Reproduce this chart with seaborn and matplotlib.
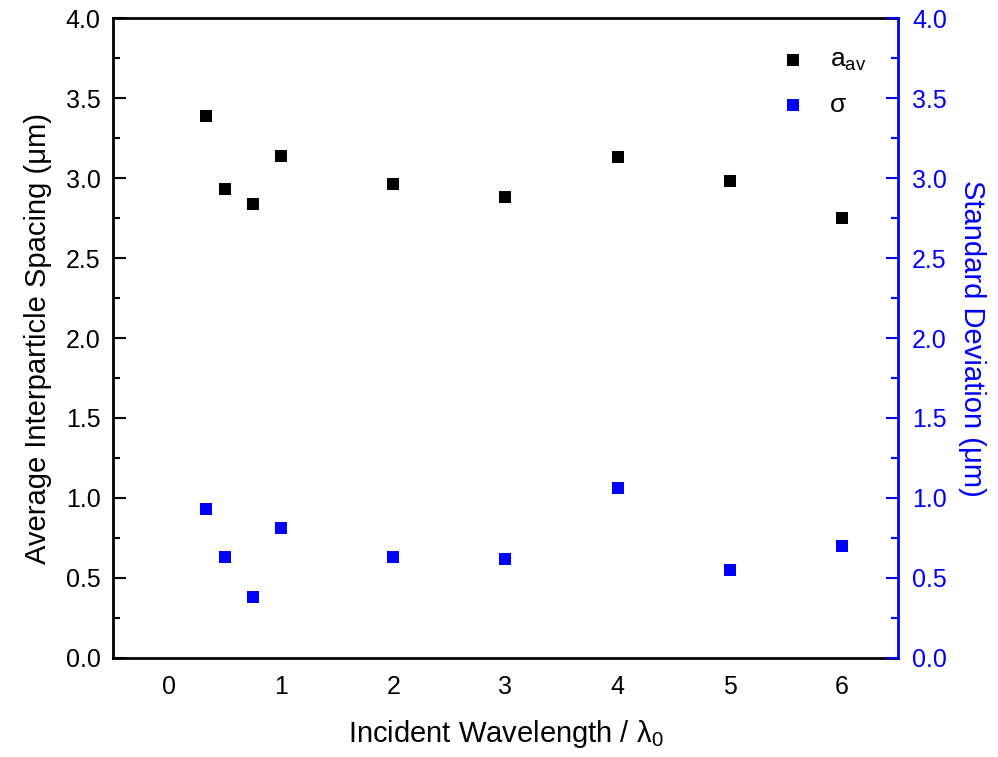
import matplotlib
matplotlib.use("Agg")
import matplotlib.pyplot as plt
from matplotlib.ticker import MultipleLocator
import seaborn as sns
import pandas as pd

wavelength = [1/3, 0.5, 0.75, 1, 2, 3, 4, 5, 6]
spacing_avg = [3.39, 2.93, 2.84, 3.14, 2.96, 2.88, 3.13, 2.98, 2.75]
spacing_std = [0.93, 0.63, 0.38, 0.81, 0.63, 0.62, 1.06, 0.55, 0.70]
ytick_values = [0, 0.5, 1, 1.5, 2, 2.5, 3, 3.5, 4]
ytick_labels = ["0.0", "0.5", "1.0", "1.5", "2.0", "2.5", "3.0", "3.5", "4.0"]

sns.set_style("white")
plt.rcParams["font.family"] = ["Liberation Sans", "DejaVu Sans"]
plt.rcParams["mathtext.fontset"] = "custom"
plt.rcParams["mathtext.rm"] = "Liberation Sans"
plt.rcParams["mathtext.it"] = "Liberation Sans"
plt.rcParams["text.color"] = "black"
plt.rcParams["axes.labelcolor"] = "black"

df = pd.DataFrame({"x": wavelength, "aav": spacing_avg, "sigma": spacing_std})

fig = plt.figure(figsize=(9.98, 7.57), dpi=100)
ax = fig.add_axes([0.1132, 0.1308, 0.7866, 0.8454])
ax2 = ax.twinx()

sns.scatterplot(data=df, x="x", y="aav", ax=ax, marker="s", color="black",
                s=75, linewidth=0, label=r"$\mathregular{a_{av}}$", legend=False)
sns.scatterplot(data=df, x="x", y="sigma", ax=ax2, marker="s", color="blue",
                s=75, linewidth=0, label="σ", legend=False)

for a in (ax, ax2):
    a.set_xlim(-0.5, 6.5)
    a.set_ylim(0, 4.0)
    a.yaxis.set_minor_locator(MultipleLocator(0.25))
    a.set_yticks(ytick_values)
    a.set_yticklabels(ytick_labels)

ax.xaxis.set_major_locator(MultipleLocator(1))
ax.xaxis.set_minor_locator(MultipleLocator(0.5))

ax.tick_params(axis="both", which="major", direction="in", length=9, width=1.5,
               labelsize=18, colors="black")
ax.tick_params(axis="y", which="major", pad=9)
ax.tick_params(axis="x", which="major", pad=12)
ax.tick_params(axis="both", which="minor", direction="in", length=5, width=1.5,
               colors="black")
ax.tick_params(axis="y", right=False)
ax.tick_params(axis="x", top=False)

ax2.tick_params(axis="y", which="major", direction="in", length=9, width=1.5,
                labelsize=18, pad=10, colors="blue")
ax2.tick_params(axis="y", which="minor", direction="in", length=5, width=1.5,
                colors="blue")

for side in ("left", "bottom", "top"):
    ax.spines[side].set_linewidth(2)
    ax.spines[side].set_color("black")
ax.spines["right"].set_visible(False)
for side in ("left", "bottom", "top"):
    ax2.spines[side].set_visible(False)
ax2.spines["right"].set_linewidth(2)
ax2.spines["right"].set_color("blue")

ax.set_xlabel(r"Incident Wavelength / $\mathregular{\lambda_0}$", fontsize=21, labelpad=14)
ax.set_ylabel("Average Interparticle Spacing (μm)", fontsize=21, labelpad=10)
ax2.set_ylabel("Standard Deviation (μm)", fontsize=21, color="blue",
               rotation=270, labelpad=28)

h1, l1 = ax.get_legend_handles_labels()
h2, l2 = ax2.get_legend_handles_labels()
ax2.legend(h1 + h2, l1 + l2, loc="upper right", frameon=False, fontsize=19,
           handletextpad=0.4, labelspacing=0.75, borderaxespad=0.5,
           bbox_to_anchor=(0.99, 0.99))

fig.savefig("out.png", dpi=100)
